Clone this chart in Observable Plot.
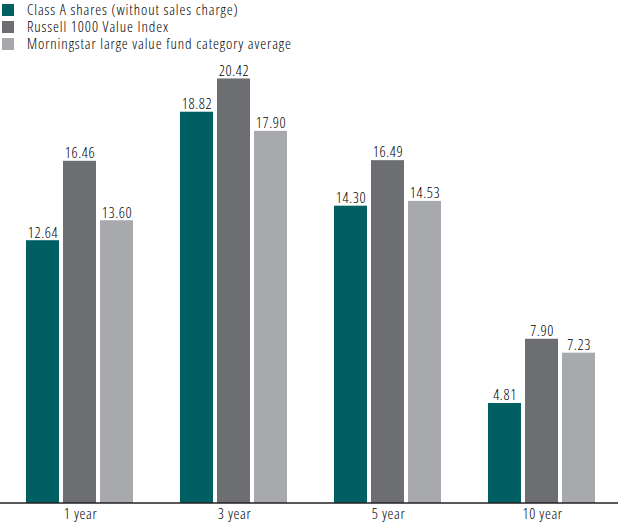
<!DOCTYPE html>
<html>
<head>
<meta charset="utf-8">
<script src="https://cdn.jsdelivr.net/npm/d3@7"></script>
<script src="https://cdn.jsdelivr.net/npm/@observablehq/plot@0.6"></script>
<style>
  html, body { margin: 0; padding: 0; background: #fff; }
  body { width: 618px; height: 525px; overflow: hidden; font-family: "Open Sans", sans-serif; font-stretch: 75%; font-weight: 300; }
  #legend { height: 55px; box-sizing: border-box; padding-top: 1px; }
  .item { display: flex; align-items: center; height: 17px; line-height: 17px; font-size: 15px; letter-spacing: 0.9px; color: #000; }
  .sw { width: 12px; height: 12px; margin-left: 2px; margin-right: 13px; flex: none; }
  svg { display: block; }
  svg text { font-stretch: 75%; font-weight: 300; letter-spacing: 0.6px; }
</style>
</head>
<body>
<div id="legend"></div>
<div id="chart"></div>
<script>
const periods = ["1 year", "3 year", "5 year", "10 year"];
const series = ["Class A shares (without sales charge)", "Russell 1000 Value Index", "Morningstar large value fund category average"];
const classA = [12.64, 18.82, 14.30, 4.81];
const russell = [16.46, 20.42, 16.49, 7.90];
const morningstar = [13.60, 17.90, 14.53, 7.23];
const colors = ["#005f63", "#6d6e71", "#a7a9ac"];

const valuesBySeries = [classA, russell, morningstar];
const data = [];
periods.forEach((p, i) => {
  series.forEach((s, j) => {
    data.push({period: p, series: s, value: valuesBySeries[j][i]});
  });
});

const legend = document.getElementById("legend");
series.forEach((s, j) => {
  const it = document.createElement("div");
  it.className = "item";
  const sw = document.createElement("span");
  sw.className = "sw";
  sw.style.background = colors[j];
  const t = document.createElement("span");
  t.textContent = s;
  it.appendChild(sw); it.appendChild(t);
  legend.appendChild(it);
});

const W = 618, H = 470;
const chart = Plot.plot({
  width: W,
  height: H,
  marginTop: 1,
  marginBottom: 22,
  marginLeft: 3,
  marginRight: 0,
  style: {fontFamily: "'Open Sans', sans-serif", fontSize: "15px", color: "#000", background: "#fff"},
  fx: {domain: periods, paddingInner: 0.286, paddingOuter: 0.136, label: null, tickSize: 0, tickPadding: 5, axis: "bottom"},
  x: {domain: series, paddingInner: 0.1, paddingOuter: 0, axis: null},
  y: {domain: [0, 21.5], axis: null},
  color: {domain: series, range: colors},
  facet: {data, x: "period", label: null},
  marks: [
    Plot.barY(data, {x: "series", y: "value", fill: "series"}),
    Plot.text(data, {x: "series", y: "value", text: d => d.value.toFixed(2), dy: -8, fontSize: 15, fill: "#000"})
  ]
});
// baseline axis line across the full width, positioned via Plot's y scale
const y0 = chart.scale("y").apply(0);
d3.select(chart).append("line")
  .attr("x1", 0).attr("x2", W)
  .attr("y1", y0).attr("y2", y0)
  .attr("stroke", "#222").attr("stroke-width", 1.5);
document.getElementById("chart").appendChild(chart);
</script>
</body>
</html>
